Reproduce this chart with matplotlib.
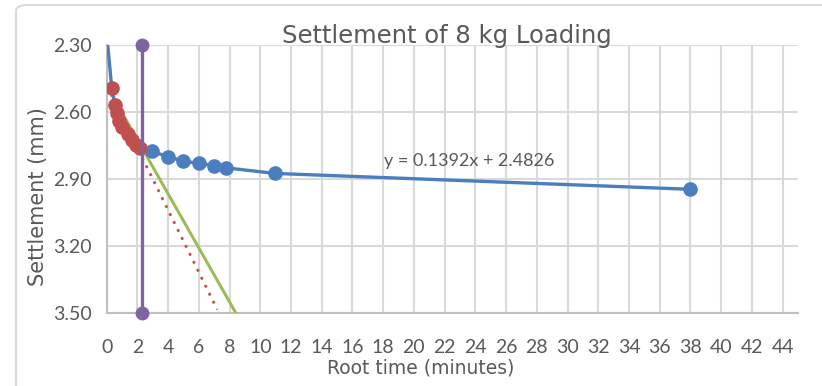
import matplotlib
matplotlib.use("Agg")
import matplotlib.pyplot as plt
from matplotlib.patches import FancyBboxPatch
import numpy as np

# Root-time settlement readings (root minutes vs settlement in mm)
root_time = [0.0, 0.33, 0.54, 0.65, 0.80, 0.98, 1.41, 1.63, 1.89, 2.17,
             2.93, 3.97, 4.99, 6.03, 6.98, 7.76, 10.95, 37.95]
settlement = [2.25, 2.494, 2.569, 2.606, 2.640, 2.666, 2.700, 2.725, 2.748, 2.763,
              2.775, 2.800, 2.820, 2.830, 2.840, 2.850, 2.875, 2.946]

# Initial linear portion used for the trend line
early_time = [0.33, 0.54, 0.65, 0.80, 0.98, 1.41, 1.63, 1.89, 2.17]
early_settlement = [2.494, 2.569, 2.606, 2.640, 2.666, 2.700, 2.725, 2.748, 2.763]

trend_slope = 0.1392
trend_intercept = 2.4826
trend_end = 7.2
taylor_factor = 1.15
t90_root = 2.3

x_ticks = list(range(0, 46, 2))
y_ticks = [2.30, 2.60, 2.90, 3.20, 3.50]

W, H = 822, 386
fig = plt.figure(figsize=(W / 100, H / 100), dpi=100)
plt.rcParams['font.family'] = ['Lato', 'DejaVu Sans']

# chart-area border
border = FancyBboxPatch((16 / W, 1 - 5 / H - 1.2), 1.2, 1.2, transform=fig.transFigure,
                        boxstyle="round,pad=0,rounding_size=0.015", fc="none",
                        ec="#d9d9d9", lw=1.5, zorder=0)
fig.patches.append(border)

left, right, top, bottom = 106.7, 798, 45, 313
ax = fig.add_axes([left / W, 1 - bottom / H, (right - left) / W, (bottom - top) / H])

ax.set_xlim(0, 45)
ax.set_ylim(3.5, 2.3)
ax.set_xticks(x_ticks)
ax.set_yticks(y_ticks)
ax.set_yticklabels([f"{v:.2f}" for v in y_ticks])
ax.grid(True, color="#d9d9d9", lw=1.5, zorder=0)
ax.set_axisbelow(True)
for s in ["top", "right"]:
    ax.spines[s].set_visible(False)
for s in ["left", "bottom"]:
    ax.spines[s].set_color("#bfbfbf")
    ax.spines[s].set_linewidth(1.5)
ax.tick_params(length=0, colors="#595959", labelsize=14)
ax.tick_params(axis="y", pad=11)
ax.tick_params(axis="x", pad=19)

blue = "#4a7ebf"
red = "#c0504d"
green = "#9bbb59"
purple = "#8064a2"

# trend line of the initial portion (dotted) and the 1.15x line
tx = np.array([0.0, trend_end])
ax.plot(tx, trend_intercept + trend_slope * tx, ls=(0, (1, 2.2)), lw=2, color=red, zorder=2)
gx_end = (3.5 - trend_intercept) * taylor_factor / trend_slope
gx = np.array([0.0, gx_end])
ax.plot(gx, trend_intercept + trend_slope / taylor_factor * gx, color=green, lw=2.2, zorder=3)

# settlement curve
ax.plot(root_time, settlement, color=blue, lw=2.4, zorder=4)
ax.plot(root_time[10:], settlement[10:], 'o', color=blue, ms=9.5, zorder=5)
ax.plot(early_time, early_settlement, 'o', color=red, ms=9.5, zorder=6)

# t90 marker line
ax.plot([t90_root, t90_root], [2.30, 3.50], color=purple, lw=2.4, marker='o', ms=9,
        clip_on=False, zorder=7)

ax.text(23.6, 2.855, "y = 0.1392x + 2.4826", fontsize=13, color="#595959",
        ha="center", va="bottom")

fig.text(447 / W, 1 - 36 / H, "Settlement of 8 kg Loading", fontsize=17.5,
         color="#595959", ha="center", va="center", family="DejaVu Sans")
fig.text(421 / W, 1 - 368 / H, "Root time (minutes)", fontsize=13.5,
         color="#595959", ha="center", va="center", family="DejaVu Sans")
fig.text(38 / W, 1 - 197 / H, "Settlement (mm)", fontsize=15, rotation=90,
         color="#595959", ha="center", va="center", family="DejaVu Sans")

fig.savefig("out.png", dpi=100)
